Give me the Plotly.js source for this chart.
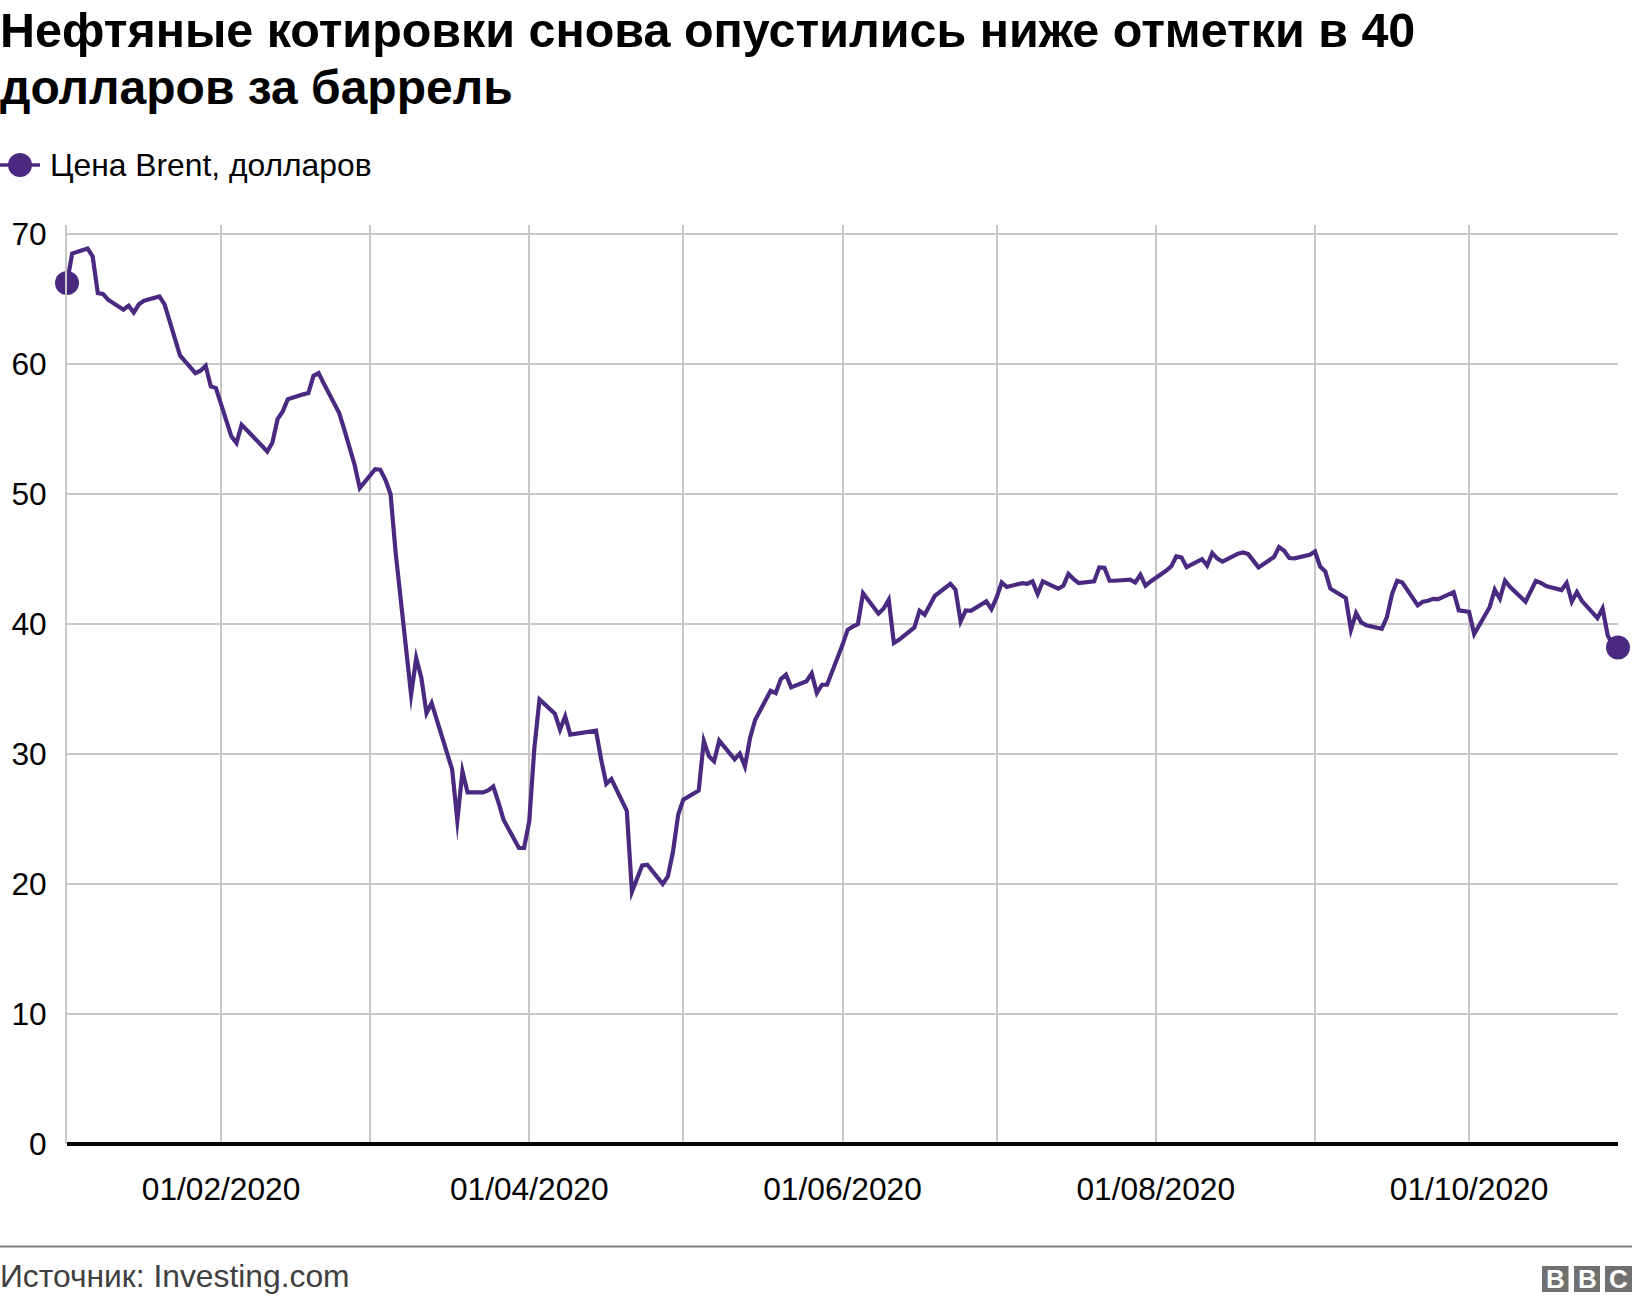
<!DOCTYPE html>
<html lang="ru">
<head>
<meta charset="utf-8">
<script src="https://cdn.plot.ly/plotly-3.0.1.min.js"></script>
<style>html,body{margin:0;padding:0;background:#fff}#chart{width:1632px;height:1302px}
#chart path.js-line{stroke-linejoin:miter !important;stroke-miterlimit:10 !important}</style>
</head>
<body>
<div id="chart"></div>
<script>
const titleLine1 = "Нефтяные котировки снова опустились ниже отметки в 40";
const titleLine2 = "долларов за баррель";
const seriesName = "Цена Brent, долларов";
const sourceText = "Источник: Investing.com";
const logoLetters = ["B", "B", "C"];

const dates = [
"2020-01-02","2020-01-03","2020-01-06","2020-01-07","2020-01-08","2020-01-09","2020-01-10","2020-01-13","2020-01-14","2020-01-15","2020-01-16","2020-01-17",
"2020-01-20","2020-01-21","2020-01-22","2020-01-23","2020-01-24","2020-01-27","2020-01-28","2020-01-29","2020-01-30","2020-01-31",
"2020-02-03","2020-02-04","2020-02-05","2020-02-06","2020-02-07","2020-02-10","2020-02-11","2020-02-12","2020-02-13","2020-02-14",
"2020-02-17","2020-02-18","2020-02-19","2020-02-20","2020-02-21","2020-02-24","2020-02-25","2020-02-26","2020-02-27","2020-02-28",
"2020-03-02","2020-03-03","2020-03-04","2020-03-05","2020-03-06","2020-03-09","2020-03-10","2020-03-11","2020-03-12","2020-03-13",
"2020-03-16","2020-03-17","2020-03-18","2020-03-19","2020-03-20","2020-03-23","2020-03-24","2020-03-25","2020-03-26","2020-03-27",
"2020-03-30","2020-03-31","2020-04-01","2020-04-02","2020-04-03","2020-04-06","2020-04-07","2020-04-08","2020-04-09",
"2020-04-13","2020-04-14","2020-04-15","2020-04-16","2020-04-17","2020-04-20","2020-04-21","2020-04-22","2020-04-23","2020-04-24",
"2020-04-27","2020-04-28","2020-04-29","2020-04-30","2020-05-01","2020-05-04","2020-05-05","2020-05-06","2020-05-07","2020-05-08",
"2020-05-11","2020-05-12","2020-05-13","2020-05-14","2020-05-15","2020-05-18","2020-05-19","2020-05-20","2020-05-21","2020-05-22",
"2020-05-25","2020-05-26","2020-05-27","2020-05-28","2020-05-29","2020-06-01","2020-06-02","2020-06-03","2020-06-04","2020-06-05",
"2020-06-08","2020-06-09","2020-06-10","2020-06-11","2020-06-12","2020-06-15","2020-06-16","2020-06-17","2020-06-18","2020-06-19",
"2020-06-22","2020-06-23","2020-06-24","2020-06-25","2020-06-26","2020-06-29","2020-06-30","2020-07-01","2020-07-02","2020-07-03",
"2020-07-06","2020-07-07","2020-07-08","2020-07-09","2020-07-10","2020-07-13","2020-07-14","2020-07-15","2020-07-16","2020-07-17",
"2020-07-20","2020-07-21","2020-07-22","2020-07-23","2020-07-24","2020-07-27","2020-07-28","2020-07-29","2020-07-30","2020-07-31",
"2020-08-03","2020-08-04","2020-08-05","2020-08-06","2020-08-07","2020-08-10","2020-08-11","2020-08-12","2020-08-13","2020-08-14",
"2020-08-17","2020-08-18","2020-08-19","2020-08-20","2020-08-21","2020-08-24","2020-08-25","2020-08-26","2020-08-27","2020-08-28",
"2020-08-31","2020-09-01","2020-09-02","2020-09-03","2020-09-04","2020-09-07","2020-09-08","2020-09-09","2020-09-10","2020-09-11",
"2020-09-14","2020-09-15","2020-09-16","2020-09-17","2020-09-18","2020-09-21","2020-09-22","2020-09-23","2020-09-24","2020-09-25",
"2020-09-28","2020-09-29","2020-09-30","2020-10-01","2020-10-02","2020-10-05","2020-10-06","2020-10-07","2020-10-08","2020-10-09",
"2020-10-12","2020-10-13","2020-10-14","2020-10-15","2020-10-16","2020-10-19","2020-10-20","2020-10-21","2020-10-22","2020-10-23",
"2020-10-26","2020-10-27","2020-10-28","2020-10-29","2020-10-30"];

const prices = [
66.23,68.5,68.9,68.27,65.46,65.4,64.95,64.18,64.49,63.97,64.6,64.87,
65.2,64.6,63.28,62.0,60.67,59.3,59.49,59.87,58.28,58.15,
54.44,53.92,55.33,54.93,54.54,53.28,53.97,55.77,56.36,57.3,
57.67,57.77,59.1,59.31,58.5,56.23,54.95,53.54,52.26,50.46,
51.92,51.87,51.1,50.0,45.46,34.56,37.38,35.85,33.15,33.92,
30.08,28.8,24.88,28.67,27.05,27.05,27.2,27.5,26.3,24.95,
22.77,22.77,24.82,30.46,34.2,33.1,31.87,32.9,31.5,
31.74,31.8,29.6,27.7,28.08,25.64,19.4,20.46,21.44,21.49,
20.0,20.59,22.5,25.33,26.49,27.2,31.0,29.82,29.44,31.03,
29.6,30.03,29.05,31.23,32.64,34.87,34.69,35.77,36.1,35.13,
35.6,36.2,34.69,35.33,35.33,38.4,39.56,39.8,39.99,42.38,
40.8,41.2,41.87,38.54,38.79,39.74,41.03,40.72,41.49,42.18,
43.1,42.64,40.2,41.05,41.02,41.74,41.15,42.03,43.2,42.85,
43.15,43.1,43.28,42.31,43.28,42.72,42.95,43.85,43.46,43.15,
43.28,44.36,44.33,43.33,43.33,43.41,43.2,43.79,42.95,43.28,
44.1,44.43,45.2,45.13,44.38,45.0,44.5,45.46,45.03,44.8,
45.41,45.51,45.38,44.87,44.36,45.15,45.92,45.64,45.08,45.05,
45.33,45.58,44.43,44.05,42.72,42.0,39.56,40.85,40.13,39.9,
39.64,40.53,42.31,43.33,43.2,41.44,41.72,41.79,41.94,41.92,
42.46,41.05,41.03,40.93,39.23,41.29,42.65,41.95,43.34,42.85,
41.72,42.45,43.32,43.16,42.93,42.62,43.16,41.73,42.46,41.77,
40.46,41.2,39.12,38.4,38.2];

const monthTicks = ["2020-02-01","2020-03-01","2020-04-01","2020-05-01","2020-06-01","2020-07-01","2020-08-01","2020-09-01","2020-10-01"];
const monthLabels = ["01/02/2020","","01/04/2020","","01/06/2020","","01/08/2020","","01/10/2020"];
const valueTicks = [0,10,20,30,40,50,60,70];

const W = 1632, H = 1302;
const M = {l:67, r:14, t:225, b:158};
const INK = "#4a2a80", FONT = "Liberation Sans, Arial, sans-serif", BLACK = "#000";
const px = x => (x - M.l) / (W - M.l - M.r);
const py = y => 1 - (y - M.t) / (H - M.t - M.b);

const shapes = [
  {type:"line", xref:"paper", yref:"paper", x0:px(0), x1:px(40), y0:py(165), y1:py(165), line:{color:INK, width:3.5}},
  {type:"circle", xref:"paper", yref:"paper", x0:px(8), x1:px(32), y0:py(153), y1:py(177), fillcolor:INK, line:{width:0}},
  {type:"line", xref:"paper", yref:"paper", x0:px(0), x1:px(W), y0:py(1246.5), y1:py(1246.5), line:{color:"#808080", width:2}}
];
const logoBoxes = [[1542,1568.5],[1574,1600],[1605,1632]];
logoBoxes.forEach(b => shapes.push({type:"rect", xref:"paper", yref:"paper", x0:px(b[0]), x1:px(b[1]), y0:py(1266), y1:py(1292), fillcolor:"#707070", line:{width:0}}));

const annotations = [
  {xref:"paper", yref:"paper", x:px(-2), y:py(88), xanchor:"left", yanchor:"middle", showarrow:false, text:titleLine2, font:{family:FONT, size:48, weight:700, color:BLACK}},
  {xref:"paper", yref:"paper", x:px(48), y:py(165), xanchor:"left", yanchor:"middle", showarrow:false, text:seriesName, font:{family:FONT, size:31.8, color:BLACK}},
  {xref:"paper", yref:"paper", x:px(-2), y:py(1276), xanchor:"left", yanchor:"middle", showarrow:false, text:sourceText, font:{family:FONT, size:31.8, color:"#404040"}}
];
logoLetters.forEach((t,i) => annotations.push({xref:"paper", yref:"paper", x:px((logoBoxes[i][0]+logoBoxes[i][1])/2), y:py(1279), xanchor:"center", yanchor:"middle", showarrow:false, text:t, font:{family:FONT, size:26, weight:700, color:"#fff"}}));

Plotly.newPlot("chart", [
  {type:"scatter", mode:"lines", x:dates, y:prices, name:seriesName, showlegend:false, cliponaxis:false, line:{color:INK, width:4.2, shape:"linear"}},
  {type:"scatter", mode:"markers", x:[dates[0], dates[dates.length-1]], y:[prices[0], prices[prices.length-1]], showlegend:false, cliponaxis:false, marker:{color:INK, size:24}}
], {
  width:W, height:H, margin:{l:M.l, r:M.r, t:M.t, b:M.b, pad:0},
  paper_bgcolor:"#fff", plot_bgcolor:"#fff", showlegend:false,
  font:{family:FONT, size:31.7, color:BLACK},
  title:{text:titleLine1, x:0, xref:"container", xanchor:"left", y:1-30/H, yref:"container", yanchor:"middle", pad:{t:0,b:0,l:0,r:0}, font:{family:FONT, size:48.45, weight:700, color:BLACK}},
  xaxis:{type:"date", range:["2020-01-02","2020-10-30"], tickmode:"array", tickvals:monthTicks, ticktext:monthLabels, tickangle:0,
    showgrid:true, gridcolor:"#c8c8c8", gridwidth:2, zeroline:false, showline:false, ticks:"", ticklabelstandoff:23, tickfont:{family:FONT, size:31.7, color:BLACK}},
  yaxis:{range:[0,70.7], tickmode:"array", tickvals:valueTicks, showgrid:true, gridcolor:"#c8c8c8", gridwidth:2,
    zeroline:true, zerolinecolor:"#000", zerolinewidth:4, showline:true, linecolor:"#c8c8c8", linewidth:2, ticks:"", ticklabelstandoff:12, tickfont:{family:FONT, size:31.7, color:BLACK}},
  shapes:shapes, annotations:annotations
}, {displayModeBar:false, staticPlot:true});
</script>
</body>
</html>
